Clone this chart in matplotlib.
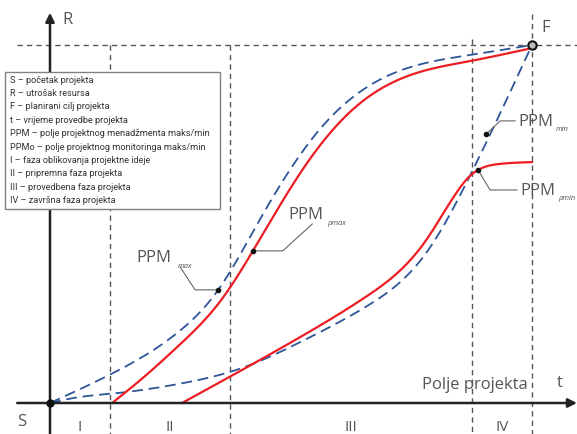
import numpy as np
import matplotlib.pyplot as plt
from matplotlib.patches import Rectangle

# t = vrijeme (S=0, F=100), R = utrosak resursa (S=0, F=100)
max_t = [0, 12.7, 26.6, 34.9, 43.6, 56.0, 69.9, 87.1, 100]
max_r = [0, 8.1, 19.8, 31.6, 51.4, 76.5, 91.3, 97.2, 100]

gmax_t = [12.9, 19.7, 26.6, 35.7, 42.1, 52.5, 62.9, 76.8, 87.1, 99.2]
gmax_r = [0, 7.5, 15.9, 29.1, 42.5, 65.4, 82.1, 92.5, 95.5, 98.9]

min_t = [0, 5.8, 12.7, 26.6, 40.5, 51.9, 65.8, 78.2, 87.1, 100]
min_r = [0, 1.6, 2.6, 5.3, 10.1, 17.0, 27.1, 42.2, 63.4, 100]

gmin_t = [27.4, 51.9, 65.8, 78.2, 84.4, 87.1, 88.8, 93.4, 100]
gmin_r = [0, 18.4, 29.9, 45.8, 58.9, 63.4, 65.1, 66.8, 67.3]

# granice faza
phase_bounds = [0, 12.45, 37.3, 87.6, 100]
phase_labels = ['I', 'II', 'III', 'IV']

legend_lines = [
    'S – početak projekta',
    'R – utrošak resursa',
    'F – planirani cilj projekta',
    't – vrijeme provedbe projekta',
    'PPM – polje projektnog menadžmenta maks/min',
    'PPMo – polje projektnog monitoringa maks/min',
    'I – faza oblikovanja projektne ideje',
    'II – pripremna faza projekta',
    'III – provedbena faza projekta',
    'IV – završna faza projekta',
]

# oznake: tocka na krivulji, lakat, kraj linije, tekst, indeks
callouts = [
    ((34.9, 31.6), (30.1, 31.6), (27.0, 38.0), (18.0, 40.8), 'max', (26.6, 38.3)),
    ((42.1, 42.5), (48.3, 42.5), (54.4, 50.0), (49.4, 52.8), 'ρmax', (57.5, 50.3)),
    ((90.5, 75.1), (93.4, 78.8), (96.5, 78.8), (97.1, 78.8), 'min', (105.0, 76.6)),
    ((88.8, 65.1), (91.3, 59.5), (96.9, 59.5), (97.5, 59.5), 'ρmin', (105.4, 57.4)),
]


def spline(x, y, xs):
    # prirodni kubni spline
    x = np.asarray(x, float)
    y = np.asarray(y, float)
    n = len(x)
    h = np.diff(x)
    A = np.zeros((n, n))
    b = np.zeros(n)
    A[0, 0] = 1
    A[-1, -1] = 1
    for i in range(1, n - 1):
        A[i, i - 1] = h[i - 1]
        A[i, i] = 2 * (h[i - 1] + h[i])
        A[i, i + 1] = h[i]
        b[i] = 6 * ((y[i + 1] - y[i]) / h[i] - (y[i] - y[i - 1]) / h[i - 1])
    M = np.linalg.solve(A, b)
    i = np.clip(np.searchsorted(x, xs) - 1, 0, n - 2)
    hi = h[i]
    a = x[i + 1] - xs
    c = xs - x[i]
    return (M[i] * a ** 3 / (6 * hi) + M[i + 1] * c ** 3 / (6 * hi)
            + (y[i] / hi - M[i] * hi / 6) * a + (y[i + 1] / hi - M[i + 1] * hi / 6) * c)


def curve(t, r):
    xs = np.linspace(t[0], t[-1], 400)
    return xs, spline(t, r, xs)


plt.rcParams['font.family'] = ['Open Sans', 'DejaVu Sans']

fig = plt.figure(figsize=(5.77, 4.35), dpi=100)
ax = fig.add_axes([0, 0, 1, 1])
ax.set_xlim(-10.373, 109.336)
ax.set_ylim(-8.659, 112.849)
ax.axis('off')

gray = '#555555'
dash_kw = dict(color=gray, lw=1.0, dashes=(3.8, 3.0), zorder=1)

# isprekidane linije
ax.plot([-6.8, 109.336], [100, 100], **dash_kw)
ax.plot([phase_bounds[1]] * 2, [100, -8.659], **dash_kw)
ax.plot([phase_bounds[2]] * 2, [100, -8.659], **dash_kw)
ax.plot([phase_bounds[3]] * 2, [101.7, -8.659], **dash_kw)
ax.plot([phase_bounds[4]] * 2, [108.7, -8.659], **dash_kw)

# osi
arrow_kw = dict(arrowstyle='-|>', lw=1.8, color='#222222', mutation_scale=13, shrinkA=0, shrinkB=0)
ax.annotate('', xy=(109.336, 0), xytext=(-6.8, 0), arrowprops=arrow_kw, zorder=4)
ax.annotate('', xy=(0, 109.0), xytext=(0, -8.659), arrowprops=arrow_kw, zorder=4)

# krivulje
blue = '#2d5597'
red = '#ee1d23'
for tt, rr in [(max_t, max_r), (min_t, min_r)]:
    x, y = curve(tt, rr)
    ax.plot(x, y, color=blue, lw=1.3, dashes=(6, 3.2), zorder=3)
for tt, rr in [(gmax_t, gmax_r), (gmin_t, gmin_r)]:
    x, y = curve(tt, rr)
    ax.plot(x, y, color=red, lw=1.6, zorder=3)

# S i F
ax.plot([0], [0], 'o', ms=5, color='#111111', zorder=5)
ax.plot([100], [100], 'o', ms=6, mfc='#bbbbbb', mec='#111111', mew=1.5, zorder=5)

# oznake PPM
for dot, elbow, end, txt, sub, subpos in callouts:
    ax.plot([dot[0], elbow[0], end[0]], [dot[1], elbow[1], end[1]], color='#666666', lw=0.8, zorder=4)
    ax.plot([dot[0]], [dot[1]], 'o', ms=3, color='#111111', zorder=5)
    ax.text(txt[0], txt[1], 'PPM', fontsize=12, color=gray, ha='left', va='center')
    ax.text(subpos[0], subpos[1], sub, fontsize=5.5, color=gray, style='italic', ha='left', va='center')

# legenda
ax.add_patch(Rectangle((-9.34, 54.19), 44.61, 38.27, facecolor='white', edgecolor='#808080', lw=1.0, zorder=6))
for i, line in enumerate(legend_lines):
    ax.text(-8.3, 90.5 - i * 3.75, line, fontsize=6.6, color='#333333', ha='left', va='center',
            family=['Roboto', 'DejaVu Sans'], zorder=7)

# tekstovi
ax.text(2.5, 107.3, 'R', fontsize=12, color=gray, ha='left', va='center')
ax.text(102.9, 105.0, 'F', fontsize=12, color=gray, ha='center', va='center')
ax.text(-5.8, -5.0, 'S', fontsize=12, color=gray, ha='center', va='center')
ax.text(105.8, 5.9, 't', fontsize=12, color=gray, ha='center', va='center')
ax.text(88.2, 5.3, 'Polje projekta', fontsize=12, color=gray, ha='center', va='center')
for i, lab in enumerate(phase_labels):
    mid = (phase_bounds[i] + phase_bounds[i + 1]) / 2
    ax.text(mid, -6.7, lab, fontsize=11, color=gray, ha='center', va='center')

fig.savefig('out.png', dpi=100)
